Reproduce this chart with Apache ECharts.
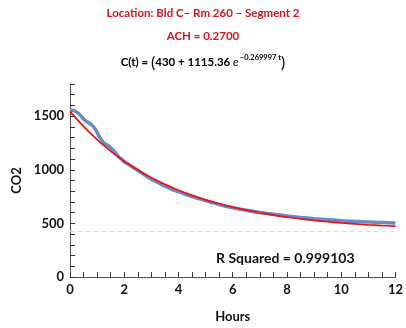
<!DOCTYPE html>
<html><head><meta charset="utf-8">
<script src="https://cdn.jsdelivr.net/npm/echarts@6/dist/echarts.min.js"></script>
<style>html,body{margin:0;padding:0;background:#fff}#c{width:406px;height:328px}</style>
</head><body><div id="c"></div>
<script>
var dataT = [0,0.1,0.2,0.3,0.4,0.5,0.6,0.7,0.8,0.9,1.0,1.1,1.2,1.3,1.4,1.5,1.6,1.7,1.8,1.9,2.0,2.25,2.5,2.75,3.0,3.25,3.5,3.75,4.0,4.5,5.0,5.5,6.0,6.5,7.0,7.5,8.0,8.5,9.0,9.5,10.0,10.5,11.0,11.5,12.0];
var dataCO2 = [1555,1555,1546,1528,1502,1474,1452,1436,1418,1392,1348,1302,1266,1242,1226,1206,1180,1150,1120,1100,1074,1036,994,952,912,880,846,818,796,750,712,676,646,622,602,586,570,556,544,534,525,519,514,509,503];
var fitT = [0,0.5,1,1.5,2,2.5,3,3.5,4,4.5,5,5.5,6,6.5,7,7.5,8,8.5,9,9.5,10,10.5,11,11.5,12];
var fitCO2 = [1545,1405,1282,1174,1080,998,926,864,809,761,719,683,651,623,599,577,559,542,528,516,505,496,487,480,474];
var asymptote = 430;
var xTicks = [0,2,4,6,8,10,12];
var yTicks = [0,500,1000,1500];
var titleText = 'Location: Bld C\u2013 Rm 260 \u2013 Segment 2';
var achText = 'ACH = 0.2700';
var rText = 'R Squared = 0.999103';

var chart = echarts.init(document.getElementById('c'), null, {renderer:'canvas'});
var F = 'Lato';
function pairs(a,b){return a.map(function(v,i){return [v,b[i]];});}
chart.setOption({
  animation:false,
  grid:{left:70,right:8,top:84,bottom:46},
  xAxis:{type:'value',min:0,max:12,interval:0.5,
    name:'Hours',nameLocation:'middle',nameGap:33,
    nameTextStyle:{fontFamily:F,fontWeight:'bold',fontSize:13,color:'#111'},
    axisLine:{lineStyle:{color:'#555',width:1}},
    axisTick:{inside:true,length:5,lineStyle:{color:'#333'}},
    splitLine:{show:false},
    axisLabel:{margin:6,fontFamily:F,fontWeight:'bold',fontSize:13,color:'#111',
      formatter:function(v){return xTicks.indexOf(v)>=0?String(v):'';}}
  },
  yAxis:{type:'value',min:0,max:1800,interval:100,
    name:'CO2',nameLocation:'middle',nameGap:44,nameRotate:90,
    nameTextStyle:{fontFamily:F,fontWeight:'bold',fontSize:13,color:'#111'},
    axisLine:{show:true,lineStyle:{color:'#555',width:1}},
    axisTick:{show:true,inside:true,length:5,lineStyle:{color:'#333'}},
    splitLine:{show:false},
    axisLabel:{margin:6,fontFamily:F,fontWeight:'bold',fontSize:13,color:'#111',
      formatter:function(v){return yTicks.indexOf(v)>=0?String(v):'';}}
  },
  graphic:[
    {type:'text',left:'center',top:7,style:{text:titleText,font:'bold 11.5px Lato',fill:'#d7141a'}},
    {type:'text',left:'center',top:30,style:{text:achText,font:'bold 11.5px Lato',fill:'#d7141a'}},
    {type:'text',left:'center',top:54,style:{
      text:'{n|C(t) = }{p|(}{n|430 + 1115.36 }{e|e}{s|\u22120.269997 t}{p|)}',
      rich:{
        n:{fontFamily:F,fontWeight:'bold',fontSize:11.5,color:'#111'},
        p:{fontFamily:F,fontSize:16,color:'#111'},
        e:{fontFamily:F,fontStyle:'italic',fontSize:12,color:'#111'},
        s:{fontFamily:F,fontWeight:'bold',fontSize:7.5,color:'#111',padding:[0,0,9,1]}
      }}},
    {type:'text',left:216,top:251,style:{text:rText,font:'bold 14px Lato',fill:'#111'}}
  ],
  series:[
    {type:'line',data:pairs(dataT,dataCO2),showSymbol:false,smooth:0.3,
      lineStyle:{color:'#6a8cc6',width:3.5},z:2},
    {type:'line',data:pairs(fitT,fitCO2),showSymbol:false,smooth:0.4,
      lineStyle:{color:'#ee1111',width:1.7},z:3,
      markLine:{silent:true,symbol:'none',label:{show:false},
        lineStyle:{color:'#d8d8d8',type:[4,4],width:1},
        data:[{yAxis:asymptote}]}}
  ]
});
</script></body></html>
